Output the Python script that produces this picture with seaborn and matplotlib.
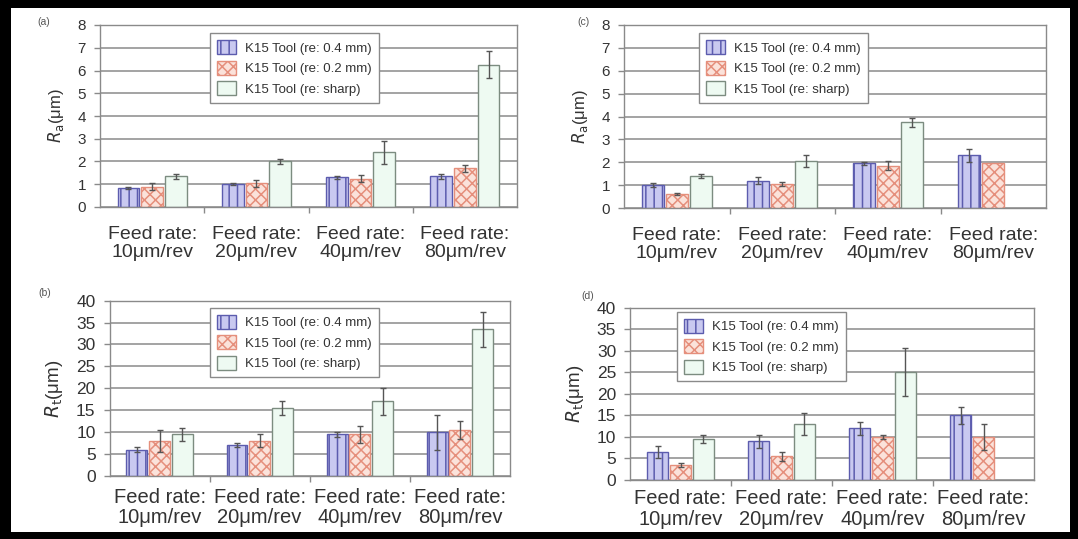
import numpy as np
import pandas as pd
import matplotlib
matplotlib.use("Agg")
import matplotlib.pyplot as plt
import seaborn as sns
from matplotlib.patches import Rectangle

# ---------------- data ----------------
categories = ["Feed rate:\n10μm/rev", "Feed rate:\n20μm/rev",
              "Feed rate:\n40μm/rev", "Feed rate:\n80μm/rev"]
tools = ["K15 Tool (re: 0.4 mm)", "K15 Tool (re: 0.2 mm)", "K15 Tool (re: sharp)"]

# (a) Ra, tool set 1
a_r04 = [0.85, 1.0, 1.3, 1.35]
a_r02 = [0.9, 1.05, 1.25, 1.7]
a_sharp = [1.35, 2.0, 2.4, 6.25]
a_r04_err = [0.05, 0.05, 0.05, 0.1]
a_r02_err = [0.15, 0.15, 0.15, 0.15]
a_sharp_err = [0.1, 0.1, 0.5, 0.6]

# (c) Ra, tool set 2
c_r04 = [1.0, 1.2, 1.95, 2.3]
c_r02 = [0.6, 1.05, 1.85, 1.95]
c_sharp = [1.4, 2.05, 3.75, np.nan]
c_r04_err = [0.08, 0.15, 0.08, 0.3]
c_r02_err = [0.05, 0.08, 0.2, 0.0]
c_sharp_err = [0.1, 0.25, 0.2, 0.0]

# (b) Rt, tool set 1
b_r04 = [6.0, 7.0, 9.5, 10.0]
b_r02 = [8.0, 8.0, 9.5, 10.5]
b_sharp = [9.5, 15.5, 17.0, 33.5]
b_r04_err = [0.5, 0.5, 0.5, 4.0]
b_r02_err = [2.5, 1.5, 2.0, 2.0]
b_sharp_err = [1.5, 1.5, 3.0, 4.0]

# (d) Rt, tool set 2
d_r04 = [6.5, 9.0, 12.0, 15.0]
d_r02 = [3.5, 5.5, 10.0, 10.0]
d_sharp = [9.5, 13.0, 25.0, np.nan]
d_r04_err = [1.5, 1.5, 1.5, 2.0]
d_r02_err = [0.5, 1.0, 0.5, 3.0]
d_sharp_err = [1.0, 2.5, 5.5, 0.0]

# ---------------- style ----------------
sns.set_style("white")
plt.rcParams['font.family'] = ['Liberation Sans', 'DejaVu Sans']
plt.rcParams['hatch.linewidth'] = 1.1

face_colors = ["#c9c9f0", "#fbe2da", "#eefaf2"]
edge_colors = ["#5c5cae", "#e58f7c", "#7c8c80"]
hatches = ["||", "xxx", ""]
text_col = "#333333"
grid_col = "#9c9c9c"
spine_col = "#8a8a8a"

W, H = 1078, 539
fig = plt.figure(figsize=(W / 100, H / 100), dpi=100)
fig.set_facecolor("black")
fig.patches.append(Rectangle((11 / W, 1 - 532 / H), (1070 - 11) / W, (532 - 8) / H,
                             transform=fig.transFigure, facecolor="white",
                             edgecolor="none", zorder=-10))


def px_axes(left, top, right, bottom):
    return fig.add_axes([left / W, 1 - bottom / H, (right - left) / W, (bottom - top) / H])


def panel(ax, vals, errs, ymax, step, ylabel, leg_anchor, tick_fs, xfs, xpad, label, label_xy):
    rows = []
    for t, v, e in zip(tools, vals, errs):
        for c, vv, ee in zip(categories, v, e):
            rows.append({"category": c, "tool": t, "value": vv, "err": ee})
    df = pd.DataFrame(rows)
    dfp = df.dropna(subset=["value"])
    sns.barplot(data=dfp, x="category", y="value", hue="tool", order=categories,
                hue_order=tools, palette=face_colors, saturation=1, width=0.68,
                gap=0.08, errorbar=None, ax=ax, linewidth=1.0, zorder=2)
    bar_conts = list(ax.containers)
    for i, cont in enumerate(bar_conts):
        for bar in cont.patches:
            bar.set_edgecolor(edge_colors[i])
            bar.set_hatch(hatches[i])
            bar.set_linewidth(1.0)
            xc = bar.get_x() + bar.get_width() / 2
            ci = int(round(xc))
            e = errs[i][ci]
            if e > 0:
                ax.errorbar(xc, bar.get_height(), yerr=e, fmt="none", ecolor="#555555",
                            elinewidth=1.0, capsize=2, capthick=1.0, zorder=3)
    if ax.get_legend() is not None:
        ax.get_legend().remove()
    handles = [c.patches[0] for c in bar_conts]
    leg = ax.legend(handles, tools, loc="upper left", bbox_to_anchor=leg_anchor,
                    borderaxespad=0, frameon=True, fancybox=False, framealpha=1,
                    edgecolor="#8a8a8a", fontsize=9.5, handlelength=1.4,
                    handleheight=1.25, labelspacing=0.45, borderpad=0.55,
                    handletextpad=0.7)
    leg.get_frame().set_linewidth(1.0)
    for t in leg.get_texts():
        t.set_color(text_col)
    leg.set_zorder(5)

    ax.set_ylim(0, ymax)
    ax.set_xlim(-0.5, 3.5)
    ax.set_yticks(np.arange(0, ymax + step / 2, step))
    ax.yaxis.grid(True, color=grid_col, linewidth=1.3)
    ax.set_axisbelow(True)
    for s in ax.spines.values():
        s.set_visible(True)
        s.set_color(spine_col)
        s.set_linewidth(1.0)
    ax.tick_params(axis="y", which="major", left=True, length=4, width=1,
                   color=spine_col, labelsize=tick_fs, labelcolor=text_col, pad=6)
    ax.tick_params(axis="x", which="major", bottom=False, labelsize=xfs,
                   labelcolor=text_col, pad=xpad)
    ax.set_xticks([0.5, 1.5, 2.5], minor=True)
    ax.tick_params(axis="x", which="minor", bottom=True, length=4, width=1, color=spine_col)
    for lbl in ax.get_xticklabels():
        lbl.set_linespacing(1.1)
    ax.set_xlabel("")
    ax.set_ylabel(ylabel, fontsize=tick_fs + 1, color=text_col, labelpad=8)
    fig.text(label_xy[0] / W, 1 - label_xy[1] / H, label, fontsize=7.5,
             color="#555555", ha="center", va="center")


ax_a = px_axes(100, 25, 517, 207)
panel(ax_a, [a_r04, a_r02, a_sharp], [a_r04_err, a_r02_err, a_sharp_err], 8, 1,
      r"$R_{\mathrm{a}}$(μm)", (0.264, 0.955), 11, 14, 10, "(a)", (44, 22))

ax_c = px_axes(624, 25, 1046, 208)
panel(ax_c, [c_r04, c_r02, c_sharp], [c_r04_err, c_r02_err, c_sharp_err], 8, 1,
      r"$R_{\mathrm{a}}$(μm)", (0.178, 0.955), 11, 14, 10, "(c)", (584, 22))

ax_b = px_axes(109.5, 300.6, 510, 476)
panel(ax_b, [b_r04, b_r02, b_sharp], [b_r04_err, b_r02_err, b_sharp_err], 40, 5,
      r"$R_{\mathrm{t}}$(μm)", (0.251, 0.96), 12.5, 14.5, 5, "(b)", (45, 293))

ax_d = px_axes(630, 307.5, 1034, 480)
panel(ax_d, [d_r04, d_r02, d_sharp], [d_r04_err, d_r02_err, d_sharp_err], 40, 5,
      r"$R_{\mathrm{t}}$(μm)", (0.116, 0.976), 12.5, 14.5, 3, "(d)", (588, 296))

fig.savefig("out.png", dpi=100, facecolor=fig.get_facecolor())
